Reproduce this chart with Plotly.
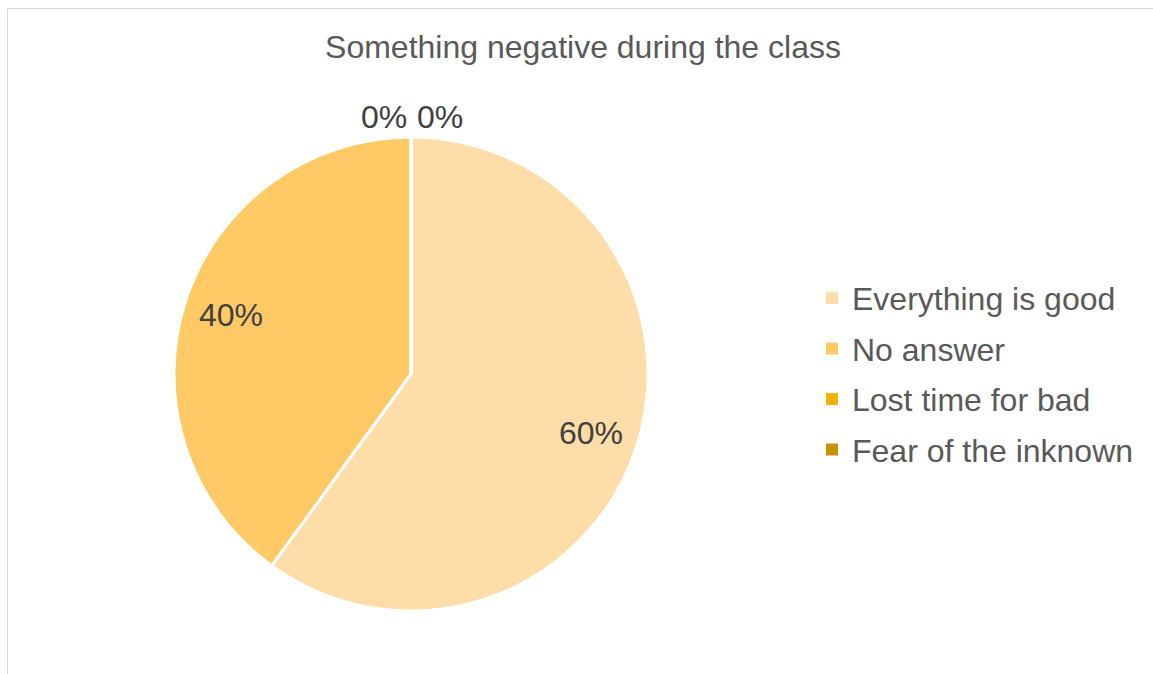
import math
import plotly.graph_objects as go

# Survey responses
labels = ["Everything is good", "No answer", "Lost time for bad", "Fear of the inknown"]
values = [60, 40, 0, 0]
colors = ["#FFDDA8", "#FFC966", "#F0B400", "#C89200"]
title_text = "Something negative during the class"

W, H = 1153, 674
FONT = "Liberation Sans, Arial"

# pie placement in pixels (centre and radius)
cx, cy, R = 411, 374, 237

fig = go.Figure()
fig.add_trace(go.Pie(
    labels=labels,
    values=values,
    sort=False,
    direction="clockwise",
    rotation=0,
    marker=dict(colors=colors, line=dict(color="white", width=3)),
    textinfo="none",
    hoverinfo="label+percent",
    domain=dict(x=[(cx - R) / W, (cx + R) / W], y=[1 - (cy + R) / H, 1 - (cy - R) / H]),
    showlegend=False,
))

# legend entries as separate groups so the row spacing can be set
for lab, col in zip(labels, colors):
    fig.add_trace(go.Scatter(
        x=[None], y=[None], mode="markers", name=lab, legendgroup=lab,
        marker=dict(symbol="square", size=12, color=col),
        showlegend=True, hoverinfo="skip",
    ))

# percentage labels placed along each slice's mid-angle
total = sum(values)
annotations = []
cum = 0
zero_shift = [-27, 29]
zi = 0
for v in values:
    pct = f"{v / total:.0%}"
    mid = (cum + v / 2) / total * 2 * math.pi
    cum += v
    if v > 0:
        r = 0.80 * R
        px = cx + r * math.sin(mid)
        py = cy - r * math.cos(mid)
        xs = 0
    else:
        r = 1.085 * R
        px = cx + r * math.sin(mid)
        py = cy - r * math.cos(mid)
        xs = zero_shift[zi]
        zi += 1
    annotations.append(dict(
        x=px / W, y=1 - py / H, xref="paper", yref="paper", xanchor="center", yanchor="middle",
        xshift=xs, text=pct, showarrow=False,
        font=dict(family=FONT, size=32, color="#404040"),
    ))

fig.update_layout(
    width=W, height=H,
    margin=dict(l=0, r=0, t=0, b=0),
    paper_bgcolor="white",
    plot_bgcolor="white",
    xaxis=dict(visible=False),
    yaxis=dict(visible=False),
    title=dict(text=title_text, x=583 / W, xanchor="center", y=1 - 47 / H, yanchor="middle",
               font=dict(family=FONT, size=32, color="#595959")),
    legend=dict(x=812 / W, xanchor="left", y=1 - 374 / H, yanchor="middle",
                font=dict(family=FONT, size=32, color="#595959"),
                tracegroupgap=6, bgcolor="rgba(0,0,0,0)"),
    annotations=annotations,
    shapes=[
        dict(type="line", xref="paper", yref="paper", x0=7.5 / W, x1=1.0, y0=1 - 8.5 / H, y1=1 - 8.5 / H,
             line=dict(color="#D9D9D9", width=1)),
        dict(type="line", xref="paper", yref="paper", x0=7.5 / W, x1=7.5 / W, y0=0, y1=1 - 8.5 / H,
             line=dict(color="#D9D9D9", width=1)),
    ],
)

fig.write_html("out.html")
